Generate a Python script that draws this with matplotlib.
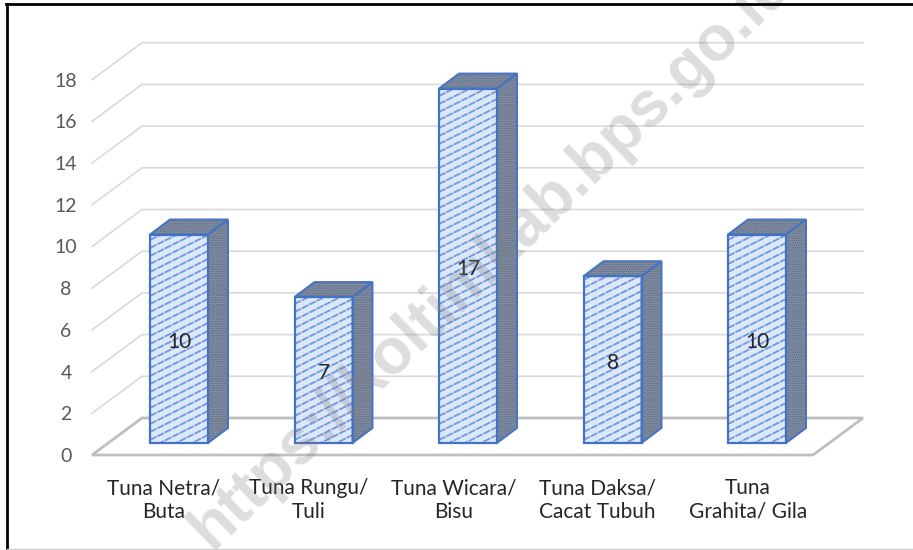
import numpy as np
import matplotlib
matplotlib.use('Agg')
import matplotlib.pyplot as plt
from matplotlib.patches import Polygon

plt.rcParams['font.family'] = ['Lato', 'DejaVu Sans']
plt.rcParams['hatch.linewidth'] = 0.8

categories = ['Tuna Netra/\nButa', 'Tuna Rungu/\nTuli', 'Tuna Wicara/\nBisu',
              'Tuna Daksa/\nCacat Tubuh', 'Tuna\nGrahita/ Gila']
values = [10, 7, 17, 8, 10]
y_ticks = [0, 2, 4, 6, 8, 10, 12, 14, 16, 18]
watermark = 'https://koltimkab.bps.go.id'

# pixel scale of the category and value axes
px_x = 144.5
px_y = 20.85
W, H = 913, 550

fig = plt.figure(figsize=(W / 100, H / 100), dpi=100)
ax = fig.add_axes([0, 0, 1, 1])
ax.set_xlim(-179 / px_x, (W - 179) / px_x)
ax.set_ylim((443 - H) / px_y, 443 / px_y)
ax.axis('off')

############ **** floor and grid **** ############
floor_left, floor_right = -87 / px_x, 634 / px_x
depth_x, floor_front, floor_back = 50 / px_x, -12 / px_y, 25 / px_y
grid_color = '#d9d9d9'
floor_color = '#bfbfbf'

for v in y_ticks[1:]:
    ax.plot([floor_left, floor_left + depth_x, floor_right + depth_x],
            [v + floor_front, v + floor_back, v + floor_back],
            color=grid_color, lw=1.2, zorder=1)
for v in y_ticks:
    ax.text(floor_left - 26 / px_x, v + floor_front - 1.5 / px_y, str(v), color='#595959',
            fontsize=14, ha='center', va='center')

ax.add_patch(Polygon([(floor_left, floor_front), (floor_left + depth_x, floor_back),
                      (floor_right + depth_x, floor_back), (floor_right, floor_front)],
                     closed=True, fill=False, edgecolor=floor_color, lw=2.0, zorder=2))

############ **** bars **** ############
bar_w = 58 / px_x
bar_dx, bar_dy = 20 / px_x, 15 / px_y
blue = '#4472c4'
stripe_color = '#6f97e0'
stripe_slope = 0.5 * px_x / px_y
stripe_step = 8 / px_y

for i, v in enumerate(values):
    left, right = i - bar_w / 2, i + bar_w / 2
    front = ax.bar(i, v, width=bar_w, facecolor='#dce7f8', edgecolor='none', zorder=3)[0]
    # shallow stripes of the pattern fill, clipped to the front face
    for s in np.arange(-bar_w * stripe_slope, v + stripe_step, stripe_step):
        line, = ax.plot([left, right], [s, s + bar_w * stripe_slope], color=stripe_color,
                        lw=1.3, ls=(0, (4, 0.6)), zorder=3.1)
        line.set_clip_path(front)
    ax.bar(i, v, width=bar_w, fill=False, edgecolor=blue, lw=1.6, zorder=3.2)
    side = [(right, 0), (right + bar_dx, bar_dy), (right + bar_dx, v + bar_dy), (right, v)]
    top = [(left, v), (left + bar_dx, v + bar_dy), (right + bar_dx, v + bar_dy), (right, v)]
    for pts in [side, top]:
        ax.add_patch(Polygon(pts, closed=True, facecolor='#8490a4', edgecolor='#5a6880',
                             hatch='.......', lw=0, zorder=3))
        ax.add_patch(Polygon(pts, closed=True, fill=False, edgecolor=blue, lw=1.4, zorder=3.2))
    ax.text(i, v / 2 - 3 / px_y, str(v), color='#262626', fontsize=15, ha='center', va='center', zorder=4)

label_shift = [-15, -15, -14, -15, -9]
for i, c in enumerate(categories):
    ax.text(i + label_shift[i] / px_x, -57 / px_y, c, color='#262626', fontsize=15,
            ha='center', va='center', linespacing=1.2, zorder=4)

############ **** watermark and frame **** ############
ax.text(492 / W, 1 - 256 / H, watermark, transform=ax.transAxes, color='#808080', alpha=0.27,
        fontsize=46, family=['Liberation Sans'], fontweight='bold', rotation=44,
        rotation_mode='anchor', ha='center', va='center', zorder=6, clip_on=True)

ax.plot([7 / W, 7 / W], [0, 1 - 4 / H], transform=ax.transAxes, color='black', lw=2, zorder=7)
ax.plot([6 / W, 1], [1 - 4 / H, 1 - 4 / H], transform=ax.transAxes, color='black', lw=2, zorder=7)
ax.plot([7 / W, 1], [1 / H, 1 / H], transform=ax.transAxes, color='#d0d0d0', lw=1, zorder=7)

fig.savefig('out.png', dpi=100)
